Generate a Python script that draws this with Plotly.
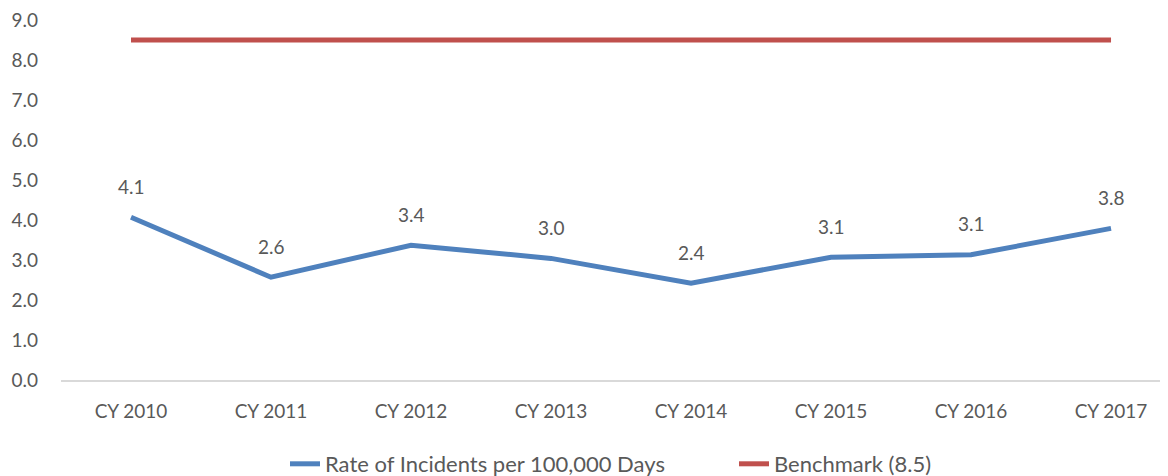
import plotly.graph_objects as go

categories = ["CY 2010", "CY 2011", "CY 2012", "CY 2013", "CY 2014", "CY 2015", "CY 2016", "CY 2017"]
rate = [4.07, 2.57, 3.37, 3.04, 2.42, 3.07, 3.13, 3.79]
benchmark = [8.5] * 8
y_ticks = [0, 1, 2, 3, 4, 5, 6, 7, 8, 9]

FONT = "Lato"
GREY = "#595959"

fig = go.Figure()
fig.add_trace(go.Scatter(
    x=categories, y=rate, mode="lines", name="Rate of Incidents per 100,000 Days",
    line=dict(color="#4F81BD", width=5),
))
fig.add_trace(go.Scatter(
    x=categories, y=benchmark, mode="lines", name="Benchmark (8.5)",
    line=dict(color="#C0504D", width=5),
))

for c, v in zip(categories, rate):
    fig.add_annotation(x=c, y=v, text=f"{v:.1f}", showarrow=False, yshift=31,
                       font=dict(family=FONT, size=19, color=GREY))

# page body has an 8px margin, so the figure is offset by 8px
L = 53
FW, FH = 1160, 468
W = FW - L
fig.update_layout(
    width=FW, height=FH,
    margin=dict(l=L, r=0, t=12, b=96, autoexpand=False),
    paper_bgcolor="white", plot_bgcolor="white",
    font=dict(family=FONT, size=19, color=GREY),
    showlegend=True,
    legend=dict(orientation="h", x=(277 - L) / W, xanchor="left", y=-84 / 360, yanchor="middle",
                font=dict(family=FONT, size=22, color=GREY), entrywidth=404,
                entrywidthmode="pixels", traceorder="normal"),
    xaxis=dict(range=[-0.5, 7.407], showgrid=False, showline=True, linecolor="#D9D9D9",
               linewidth=2, ticks="", ticklabelstandoff=13, zeroline=False, automargin=False),
    yaxis=dict(range=[0, 9], tickvals=y_ticks, tickformat=".1f", showgrid=False,
               showline=False, zeroline=False, ticks="", ticklabelstandoff=22, automargin=False,
               ticklabeloverflow="allow"),
)

fig.write_html("out.html")
